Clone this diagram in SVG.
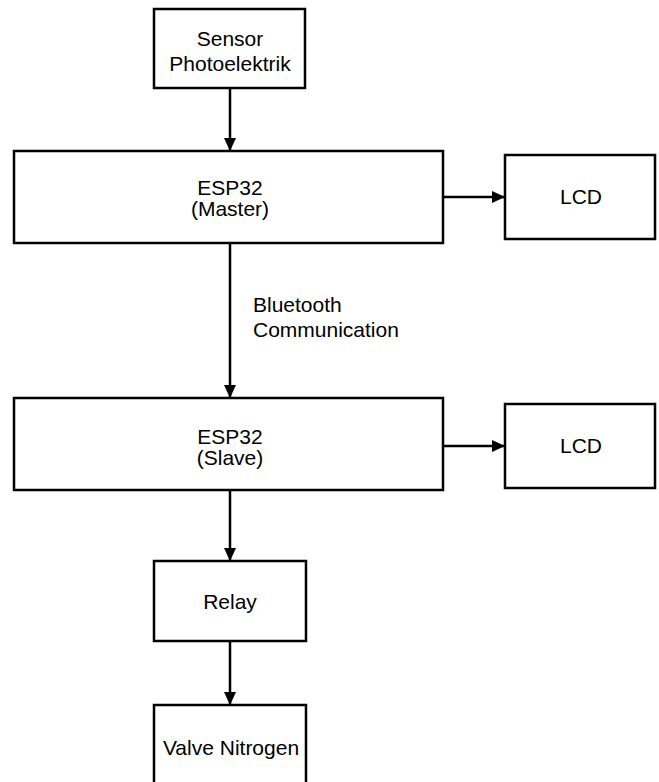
<svg xmlns="http://www.w3.org/2000/svg" width="659" height="782" viewBox="0 0 659 782">
<style>
.box{fill:#fff;stroke:#000;stroke-width:2.5}
.t{font-family:"Liberation Sans",Arial,sans-serif;font-size:21px;fill:#000;text-anchor:middle}
.l{fill:none;stroke:#000;stroke-width:2.5}
</style>
<defs>
<marker id="ah" markerWidth="13" markerHeight="12" viewBox="0 0 13 12" refX="13" refY="6" orient="auto" markerUnits="userSpaceOnUse">
<path d="M0,0 L13,6 L0,12 Z" fill="#000"/>
</marker>
</defs>
<rect width="659" height="782" fill="#fff"/>
<g id="connectors">
<line class="l" x1="230" y1="88" x2="230" y2="151" marker-end="url(#ah)"/>
<line class="l" x1="443" y1="197" x2="505" y2="197" marker-end="url(#ah)"/>
<line class="l" x1="230" y1="243" x2="230" y2="398" marker-end="url(#ah)"/>
<line class="l" x1="443" y1="446" x2="505" y2="446" marker-end="url(#ah)"/>
<line class="l" x1="230" y1="490" x2="230" y2="561" marker-end="url(#ah)"/>
<line class="l" x1="230" y1="641" x2="230" y2="705" marker-end="url(#ah)"/>
<text class="t" x="253" y="312" style="text-anchor:start">Bluetooth</text>
<text class="t" x="253" y="337" style="text-anchor:start">Communication</text>
</g>
<g id="sensor">
<rect class="box" x="154" y="9" width="151" height="79"/>
<text class="t" x="230" y="46">Sensor</text>
<text class="t" x="230" y="71">Photoelektrik</text>
</g>
<g id="esp32-master">
<rect class="box" x="14" y="151" width="429" height="92"/>
<text class="t" x="230" y="195">ESP32</text>
<text class="t" x="230" y="216">(Master)</text>
</g>
<g id="lcd1">
<rect class="box" x="505" y="155" width="150" height="84"/>
<text class="t" x="581" y="204">LCD</text>
</g>
<g id="esp32-slave">
<rect class="box" x="14" y="398" width="429" height="92"/>
<text class="t" x="230" y="444">ESP32</text>
<text class="t" x="230" y="465">(Slave)</text>
</g>
<g id="lcd2">
<rect class="box" x="505" y="404" width="150" height="84"/>
<text class="t" x="581" y="453">LCD</text>
</g>
<g id="relay">
<rect class="box" x="154" y="561" width="152" height="80"/>
<text class="t" x="230" y="609">Relay</text>
</g>
<g id="valve">
<rect class="box" x="154" y="705" width="152" height="90"/>
<text class="t" x="231" y="755">Valve Nitrogen</text>
</g>
</svg>
